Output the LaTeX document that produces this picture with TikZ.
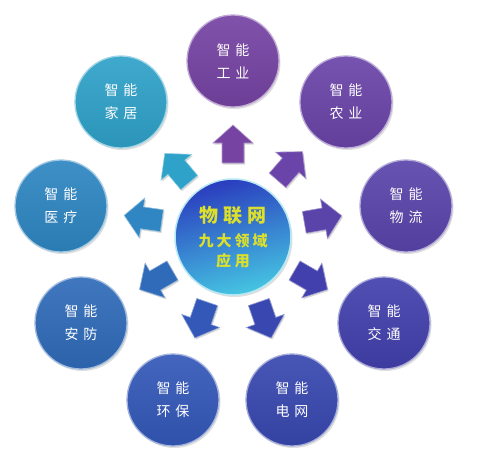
\documentclass[tikz,border=0pt]{standalone}
\usepackage{fontspec}
\newfontfamily\cjk{Noto Sans CJK SC}
\usetikzlibrary{shadows}
\definecolor{cGY}{HTML}{7643A3}
\definecolor{cNY}{HTML}{6A44A8}
\definecolor{cWL}{HTML}{5A44AA}
\definecolor{cJT}{HTML}{4240AC}
\definecolor{cDW}{HTML}{3848B0}
\definecolor{cHB}{HTML}{3358B8}
\definecolor{cAF}{HTML}{2F6BB9}
\definecolor{cYL}{HTML}{2F86C3}
\definecolor{cJJ}{HTML}{2FA2C9}
\definecolor{hubtop}{HTML}{2A3CBE}
\definecolor{hubbot}{HTML}{45C5E2}
\definecolor{hubtxt}{HTML}{DDE02A}
\begin{document}
\begin{tikzpicture}[x=1pt,y=-1pt,
  outer/.style={circle,minimum size=92pt,inner sep=0pt,align=center,text=white,
    font=\cjk\fontsize{14}{23}\selectfont,
    top color=#1!92!white,bottom color=#1!92!black,
    draw=#1!45!white,line width=1.3pt,
    drop shadow={shadow xshift=1.5pt,shadow yshift=-2pt,opacity=.25}},
  hub/.style={circle,minimum size=116pt,inner sep=0pt,
    top color=hubtop,bottom color=hubbot,shading angle=15,
    draw=hubbot!40!white,line width=1.5pt,
    drop shadow={shadow xshift=1.5pt,shadow yshift=-2pt,opacity=.25}},
  hubtext/.style={text=hubtxt,font=\cjk\bfseries\fontsize{#1}{#1}\selectfont,inner sep=0pt},
  blockarrow/.style={fill=#1,draw=#1!55!white,line width=.6pt,
    drop shadow={shadow xshift=1.2pt,shadow yshift=-1.5pt,opacity=.3}}
]
\useasboundingbox[fill=white] (0,0) rectangle (480,459);

% block arrows from the hub outward
\foreach \x/\y/\a/\c in {233/144/90/cGY, 290/166/49/cNY, 177/168/130/cJJ,
    323/219/10/cWL, 143/218/172/cYL, 311/280/-30/cJT, 156/280/-150/cAF,
    265/320/-71/cDW, 201/320/-109/cHB}{
  \path[blockarrow=\c,shift={(\x,\y)},rotate=\a]
    (-19,-11) -- (1,-11) -- (1,-20) -- (19,0) -- (1,20) -- (1,11) -- (-19,11) -- cycle;
}

% hub
\node[hub] (hubc) at (233,237) {};
\node[hubtext=19] (t1) at (233,215) {物\hspace{5pt}联\hspace{5pt}网};
\node[hubtext=15] (t2) at (233,241) {九\hspace{3pt}大\hspace{3pt}领\hspace{3pt}域};
\node[hubtext=15] (t3) at (233,261) {应\hspace{4pt}用};

% outer circles
\node[outer=cGY] (gy) at (233,61)  {智\hspace{5pt}能\\工\hspace{5pt}业};
\node[outer=cNY] (ny) at (346,102) {智\hspace{5pt}能\\农\hspace{5pt}业};
\node[outer=cWL] (wl) at (406,206) {智\hspace{5pt}能\\物\hspace{5pt}流};
\node[outer=cJT] (jt) at (384,323) {智\hspace{5pt}能\\交\hspace{5pt}通};
\node[outer=cDW] (dw) at (292,400) {智\hspace{5pt}能\\电\hspace{5pt}网};
\node[outer=cHB] (hb) at (173,400) {智\hspace{5pt}能\\环\hspace{5pt}保};
\node[outer=cAF] (af) at (81,323)  {智\hspace{5pt}能\\安\hspace{5pt}防};
\node[outer=cYL] (yl) at (61,206)  {智\hspace{5pt}能\\医\hspace{5pt}疗};
\node[outer=cJJ] (jj) at (121,102) {智\hspace{5pt}能\\家\hspace{5pt}居};
\end{tikzpicture}
\end{document}
